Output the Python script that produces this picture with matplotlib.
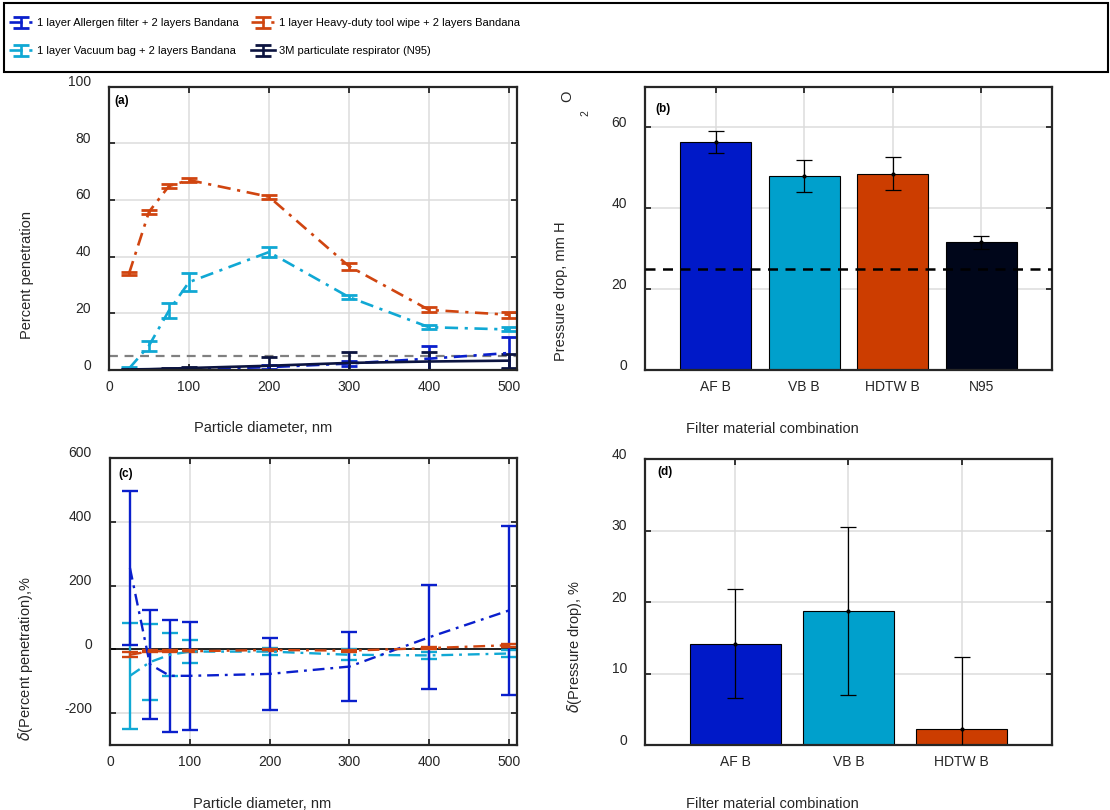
import matplotlib
matplotlib.use('Agg')
import matplotlib.pyplot as plt
import matplotlib.transforms as mtransforms
from matplotlib import font_manager
from matplotlib.patches import Rectangle

plt.rcParams['font.family'] = ['Liberation Sans', 'DejaVu Sans']
plt.rcParams['axes.unicode_minus'] = False
try:
    font_manager.findfont('Liberation Sans Narrow', fallback_to_default=False)
    narrow = 'Liberation Sans Narrow'
except Exception:
    narrow = 'Liberation Sans'

# particle diameters, nm
diam = [25, 50, 75, 100, 200, 300, 400, 500]

# (a) percent penetration
af_pen = [0.1, 0.1, 0.2, 0.3, 1.0, 2.3, 4.0, 6.0]
af_pen_err = [0.1, 0.1, 0.2, 0.3, 0.8, 1.0, 4.4, 5.5]
vb_pen = [0.5, 8.6, 21.0, 31.0, 41.6, 25.7, 15.1, 14.3]
vb_pen_err = [0.4, 1.8, 2.6, 3.1, 1.8, 0.8, 0.6, 0.7]
hd_pen = [34.0, 55.8, 64.9, 67.0, 61.1, 36.6, 21.2, 19.5]
hd_pen_err = [0.6, 0.8, 0.8, 0.6, 0.7, 1.2, 0.9, 1.0]
n95_pen = [0.2, 0.3, 0.5, 0.7, 1.5, 2.5, 3.0, 3.3]
n95_pen_err = [0.2, 0.2, 0.3, 0.5, 3.2, 3.9, 3.4, 2.5]
pen_ref = 5

# (c) delta(percent penetration), %
af_dpen = [255, -47, -83, -83, -77, -54, 38, 122]
af_dpen_err = [240, 170, 175, 170, 112, 108, 163, 265]
vb_dpen = [-83, -40, -17, -7, -7, -17, -19, -13]
vb_dpen_err = [167, 120, 67, 37, 10, 17, 10, 10]
hd_dpen = [-17, -6, -6, -6, -2, -4, 4, 13]
hd_dpen_err = [8, 3, 3, 3, 3, 3, 3, 5]

# (b) pressure drop
combos = ['AF B', 'VB B', 'HDTW B', 'N95']
pdrop = [56.2, 47.9, 48.5, 31.5]
pdrop_err = [2.7, 4.0, 4.1, 1.6]
pdrop_ref = 25

# (d) delta(pressure drop), %
combos_d = ['AF B', 'VB B', 'HDTW B']
dpdrop = [14.2, 18.75, 2.3]
dpdrop_err = [7.6, 11.8, 10.0]

labels = ['1 layer Allergen filter + 2 layers Bandana',
          '1 layer Vacuum bag + 2 layers Bandana',
          '1 layer Heavy-duty tool wipe + 2 layers Bandana',
          '3M particulate respirator (N95)']

c_af = '#0A1FCC'
c_vb = '#10A8D4'
c_hd = '#D04510'
c_n95 = '#0C1440'
bar_cols = ['#0019C8', '#00A0CC', '#CC3D00', '#00061A']
dashdot = (0, (5, 2.5, 1.2, 2.5))
txt_col = '#262626'

fig = plt.figure(figsize=(11.1, 8.1), dpi=100)
ax_a = fig.add_axes([0.0982, 0.5432, 0.3676, 0.3500])
ax_b = fig.add_axes([0.5811, 0.5432, 0.3666, 0.3500])
ax_c = fig.add_axes([0.0991, 0.0802, 0.3667, 0.3544])
ax_d = fig.add_axes([0.5811, 0.0802, 0.3666, 0.3531])

up = mtransforms.ScaledTranslation(0, 0.06, fig.dpi_scale_trans)


def style(ax):
    for s in ax.spines.values():
        s.set_color(txt_col)
        s.set_linewidth(1.6)
    ax.tick_params(direction='in', top=True, right=True, length=4, width=1.3,
                   labelsize=10, labelcolor=txt_col, color=txt_col)
    ax.tick_params(axis='y', pad=13)
    ax.tick_params(axis='x', pad=7)
    ax.grid(True, color='#dcdcdc', lw=1.1)
    ax.set_axisbelow(True)
    for lab in ax.get_yticklabels():
        lab.set_transform(lab.get_transform() + up)


# ---- (a)
kw = dict(capsize=6, capthick=2.0, elinewidth=1.9, lw=1.9)
h_af = ax_a.errorbar(diam, af_pen, yerr=af_pen_err, color=c_af, ls=dashdot, **kw)
h_vb = ax_a.errorbar(diam, vb_pen, yerr=vb_pen_err, color=c_vb, ls=dashdot, **kw)
h_hd = ax_a.errorbar(diam, hd_pen, yerr=hd_pen_err, color=c_hd, ls=dashdot, **kw)
h_n95 = ax_a.errorbar(diam, n95_pen, yerr=n95_pen_err, color=c_n95, ls='-', **kw)
ax_a.axhline(pen_ref, color='#808080', ls=(0, (4, 3)), lw=1.6, zorder=1)
ax_a.set_xlim(0, 510)
ax_a.set_ylim(0, 100)
ax_a.set_xticks([0, 100, 200, 300, 400, 500])
ax_a.set_yticks([0, 20, 40, 60, 80, 100])
style(ax_a)
ax_a.set_xlabel('Particle diameter, nm', fontsize=10.5, color=txt_col)
ax_a.set_ylabel('Percent penetration', fontsize=10.5, color=txt_col)
ax_a.xaxis.set_label_coords(0.377, -0.18)
ax_a.yaxis.set_label_coords(-0.184, 0.335)
ax_a.text(0.012, 0.95, '(a)', transform=ax_a.transAxes, fontsize=8.5,
          fontweight='bold', va='center')

# ---- (b)
xb = list(range(1, len(combos) + 1))
ax_b.bar(xb, pdrop, width=0.8, color=bar_cols, edgecolor='black', lw=0.8, zorder=2)
ax_b.errorbar(xb, pdrop, yerr=pdrop_err, fmt='.', color='black', ms=4,
              capsize=6, elinewidth=0.9, capthick=0.9, zorder=3)
ax_b.axhline(pdrop_ref, color='black', ls=(0, (4, 3)), lw=1.8, zorder=4)
ax_b.set_xlim(0.2, len(combos) + 0.8)
ax_b.set_ylim(0, 70)
ax_b.set_xticks(xb)
ax_b.set_xticklabels(combos)
ax_b.set_yticks([0, 20, 40, 60])
style(ax_b)
ax_b.set_xlabel('Filter material combination', fontsize=10.5, color=txt_col)
ax_b.set_ylabel('Pressure drop, mm H', fontsize=10.5, color=txt_col)
ax_b.xaxis.set_label_coords(0.312, -0.184)
ax_b.yaxis.set_label_coords(-0.19, 0.279)
ax_b.text(-0.146, 0.908, '2', transform=ax_b.transAxes, fontsize=7.5,
          color=txt_col, rotation=90, ha='center', va='center')
ax_b.text(-0.19, 0.965, 'O', transform=ax_b.transAxes, fontsize=10.5,
          color=txt_col, rotation=90, ha='center', va='center')
ax_b.text(0.025, 0.922, '(b)', transform=ax_b.transAxes, fontsize=8.5,
          fontweight='bold', va='center')

# ---- (c)
kc = dict(capsize=6, capthick=1.7, elinewidth=1.7, lw=1.7)
ax_c.axhline(0, color='black', lw=1.2, zorder=1)
ax_c.errorbar(diam, vb_dpen, yerr=vb_dpen_err, color=c_vb, ls=dashdot, **kc)
ax_c.errorbar(diam, af_dpen, yerr=af_dpen_err, color=c_af, ls=dashdot, **kc)
ax_c.errorbar(diam, hd_dpen, yerr=hd_dpen_err, color=c_hd, ls=dashdot, **kc)
ax_c.set_xlim(0, 510)
ax_c.set_ylim(-300, 600)
ax_c.set_xticks([0, 100, 200, 300, 400, 500])
ax_c.set_yticks([-200, 0, 200, 400, 600])
style(ax_c)
ax_c.set_xlabel('Particle diameter, nm', fontsize=10.5, color=txt_col)
ax_c.set_ylabel(r'$\delta$(Percent penetration),%', fontsize=10.5, color=txt_col)
ax_c.xaxis.set_label_coords(0.374, -0.181)
ax_c.yaxis.set_label_coords(-0.184, 0.30)
ax_c.text(0.02, 0.944, '(c)', transform=ax_c.transAxes, fontsize=8.5,
          fontweight='bold', va='center')

# ---- (d)
xd = list(range(1, len(combos_d) + 1))
ax_d.bar(xd, dpdrop, width=0.8, color=bar_cols[:3], edgecolor='black', lw=0.8, zorder=2)
ax_d.errorbar(xd, dpdrop, yerr=dpdrop_err, fmt='.', color='black', ms=4,
              capsize=6, elinewidth=0.9, capthick=0.9, zorder=3)
ax_d.set_xlim(0.2, len(combos_d) + 0.8)
ax_d.set_ylim(0, 40)
ax_d.set_xticks(xd)
ax_d.set_xticklabels(combos_d)
ax_d.set_yticks([0, 10, 20, 30, 40])
style(ax_d)
ax_d.set_xlabel('Filter material combination', fontsize=10.5, color=txt_col)
ax_d.set_ylabel(r'$\delta$(Pressure drop), %', fontsize=10.5, color=txt_col)
ax_d.xaxis.set_label_coords(0.312, -0.182)
ax_d.yaxis.set_label_coords(-0.15, 0.346)
ax_d.text(0.03, 0.955, '(d)', transform=ax_d.transAxes, fontsize=8.5,
          fontweight='bold', va='center')

# ---- legend across the top
fig.patches.append(Rectangle((0.0036, 0.911), 0.9944, 0.085, transform=fig.transFigure,
                             fill=False, edgecolor='black', lw=1.5))
lkw = dict(frameon=False, handlelength=2.2, handletextpad=0.3,
           labelspacing=1.6, borderaxespad=0, prop={'family': narrow, 'size': 8})
fig.legend([h_af, h_vb], labels[:2], loc='center left',
           bbox_to_anchor=(0.004, 0.954), **lkw)
fig.legend([h_hd, h_n95], labels[2:], loc='center left',
           bbox_to_anchor=(0.222, 0.954), **lkw)

fig.savefig('out.png', dpi=100)
